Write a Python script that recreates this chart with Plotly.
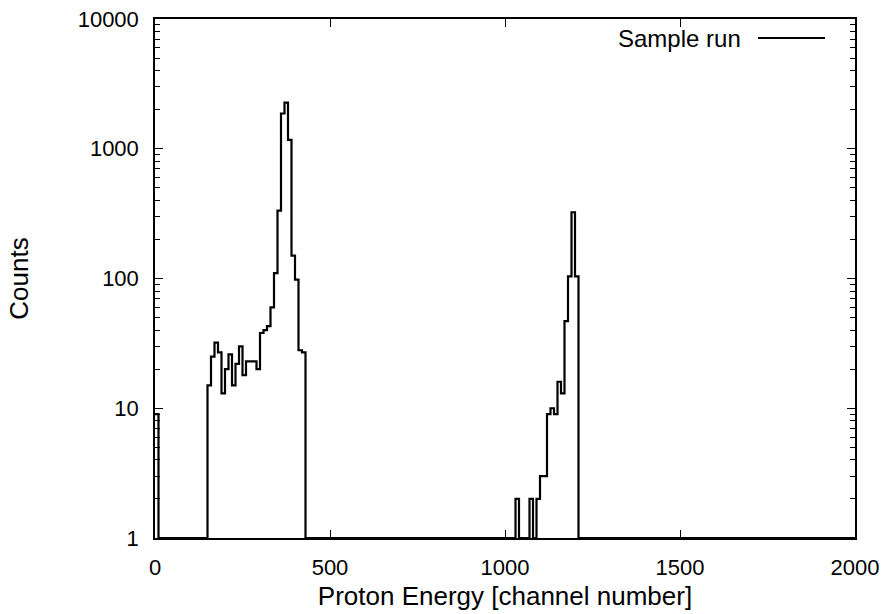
import numpy as np
import plotly.graph_objects as go

# Histogram data: 10-channel bins, left edges 0..1990
bin_width = 10
bin_edges = list(range(0, 2000, bin_width))
nonzero_counts = {
    0: 9,
    150: 15, 160: 25, 170: 32, 180: 27, 190: 13, 200: 20, 210: 26, 220: 15,
    230: 22, 240: 30, 250: 18, 260: 23, 270: 23, 280: 23, 290: 20, 300: 38,
    310: 40, 320: 43, 330: 60, 340: 110, 350: 333, 360: 1870, 370: 2270,
    380: 1170, 390: 150, 400: 98, 410: 28, 420: 27,
    1030: 2, 1070: 2, 1080: 1, 1090: 2, 1100: 3, 1110: 3, 1120: 9, 1130: 10,
    1140: 9, 1150: 16, 1160: 13, 1170: 47, 1180: 104, 1190: 324, 1200: 104,
}
counts = [nonzero_counts.get(e, 0) for e in bin_edges]

x_ticks = [0, 500, 1000, 1500, 2000]
y_ticks = [1, 10, 100, 1000, 10000]
y_tick_labels = ["1", "10", "100", "1000", "10000"]
series_name = "Sample run"

# step outline: last edge closes the final bin; empty bins sit on the log floor (1)
xs = bin_edges + [bin_edges[-1] + bin_width]
ys = [max(c, 1) for c in counts] + [max(counts[-1], 1)]

FONT = "Liberation Sans, Arial, Helvetica, sans-serif"
FS = 22
TFS = 26

fig = go.Figure()
fig.add_trace(go.Scatter(
    x=xs, y=ys, mode="lines", line=dict(color="black", width=2.2, shape="hv"),
    name=series_name, showlegend=False,
))

minor_vals = [k * 10 ** d for d in range(4) for k in range(2, 10)]

fig.update_layout(
    width=888, height=614,
    margin=dict(l=155, r=33, t=19, b=76),
    paper_bgcolor="white", plot_bgcolor="white",
    font=dict(family=FONT, size=FS, color="black"),
    showlegend=False,
    xaxis=dict(
        range=[0, 2000], tickvals=x_ticks, ticks="inside", ticklen=8, tickwidth=1.2,
        tickcolor="black", showline=True, linecolor="black", linewidth=1.5,
        mirror="ticks", showgrid=False, zeroline=False, ticklabelstandoff=9,
        automargin=False,
        title=dict(text="Proton Energy [channel number]", standoff=8,
                   font=dict(family=FONT, size=TFS, color="black")),
        tickfont=dict(size=FS),
    ),
    yaxis=dict(
        type="log", range=[0, 4], tickvals=y_ticks, ticktext=y_tick_labels,
        ticks="inside", ticklen=8, tickwidth=1.2, tickcolor="black",
        showline=True, linecolor="black", linewidth=1.5, mirror="ticks",
        showgrid=False, zeroline=False, ticklabelstandoff=10, automargin=False,
        minor=dict(tickvals=minor_vals, ticks="inside", ticklen=5, tickwidth=1.2,
                   tickcolor="black", showgrid=False),
        title=dict(text="Counts", standoff=42,
                   font=dict(family=FONT, size=TFS, color="black")),
        tickfont=dict(size=FS),
    ),
)

# legend-style key: label on the left, line sample on the right
pw, ph = 888 - 155 - 33, 614 - 19 - 76
key_y = 1 - (38 - 19) / ph
fig.add_annotation(
    x=(743 - 155) / pw, y=key_y, xref="paper", yref="paper", text=series_name,
    showarrow=False, xanchor="right", yanchor="middle",
    font=dict(size=24, family=FONT),
)
fig.add_shape(type="line", xref="paper", yref="paper",
              x0=(758 - 155) / pw, x1=(825 - 155) / pw, y0=key_y, y1=key_y,
              line=dict(color="black", width=2))

fig.write_html("out.html")
